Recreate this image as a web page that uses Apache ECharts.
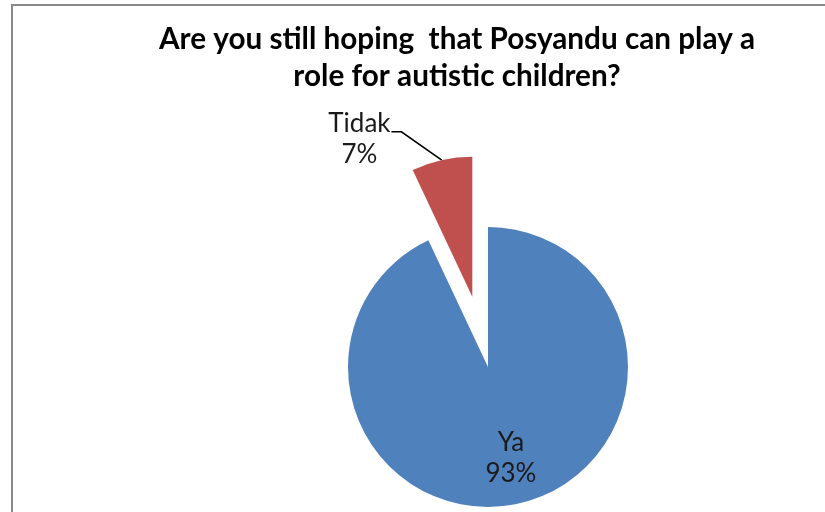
<!DOCTYPE html>
<html>
<head>
<meta charset="utf-8">
<script src="https://cdn.jsdelivr.net/npm/echarts@6/dist/echarts.min.js"></script>
<style>
  html, body { margin: 0; padding: 0; background: #fff; }
  #chart { width: 825px; height: 512px; }
</style>
</head>
<body>
<div id="chart"></div>
<script>
const categories = ['Ya', 'Tidak']
const values = [93, 7]
const colors = ['#4F81BD', '#C0504D']
const titleLines = ['Are you still hoping  that Posyandu can play a', 'role for autistic children?']

const chart = echarts.init(document.getElementById('chart'))

const option = {
  animation: false,
  title: {
    text: titleLines.join('\n'),
    left: 452,
    top: 16,
    textAlign: 'center',
    textStyle: {
      fontFamily: 'Lato',
      fontSize: 29.7,
      fontWeight: 'bold',
      color: '#000',
      lineHeight: 37
    }
  },
  graphic: [
    {
      type: 'rect',
      shape: { x: 12, y: 5, width: 900, height: 600 },
      style: { fill: 'none', stroke: '#8a8a8a', lineWidth: 2 },
      silent: true
    }
  ],
  series: [
    {
      type: 'pie',
      center: [488, 367],
      radius: 140,
      startAngle: 90,
      clockwise: true,
      selectedMode: 'single',
      selectedOffset: 72,
      data: categories.map((name, i) => ({
        name,
        value: values[i],
        selected: name === 'Tidak',
        itemStyle: { color: colors[i] },
        label: name === 'Ya'
          ? { position: 'inside', offset: [7, 20], padding: 0 }
          : { position: 'outside', padding: [14, 0, 0, 0] },
        labelLine: { show: name !== 'Ya' }
      })),
      label: {
        formatter: '{t|{b}}\n{t|{d}%}',
        distanceToLabelLine: 1,
        rich: {
          t: {
            fontFamily: 'Lato',
            fontSize: 26,
            color: '#1a1a1a',
            lineHeight: 31,
            width: 62,
            align: 'center'
          }
        }
      },
      labelLine: {
        length: 29,
        length2: 44,
        lineStyle: { color: '#000', width: 1.6 }
      },
      // bend the leader like the original: diagonal from the slice, short flat end
      labelLayout: (params) => {
        const pts = params.labelLinePoints
        if (!pts || pts.length < 3) return {}
        const end = pts[2]
        return {
          labelLinePoints: [pts[0], [end[0] + 10, end[1]], end]
        }
      },
      emphasis: { disabled: true }
    }
  ]
}

chart.setOption(option)
</script>
</body>
</html>
